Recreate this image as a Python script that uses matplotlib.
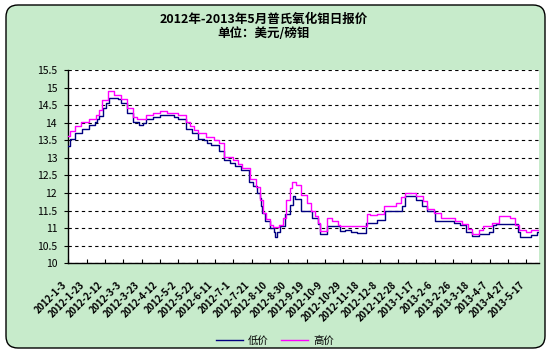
import numpy as np
import pandas as pd
import matplotlib
matplotlib.use("Agg")
import matplotlib.pyplot as plt
from matplotlib.patches import FancyBboxPatch
from matplotlib.transforms import ScaledTranslation

plt.rcParams['font.family'] = ['Noto Sans CJK SC', 'DejaVu Sans']

# ---- data: step series, date on which each price starts ----
low_dates = ["2012-01-03", "2012-01-05", "2012-01-10", "2012-01-18", "2012-01-26", "2012-02-01",
             "2012-02-03", "2012-02-06", "2012-02-10", "2012-02-13", "2012-02-16", "2012-02-26",
             "2012-02-29", "2012-03-07", "2012-03-14", "2012-03-20", "2012-03-25", "2012-03-28",
             "2012-04-04", "2012-04-12", "2012-04-27", "2012-05-02", "2012-05-10", "2012-05-17",
             "2012-05-23", "2012-05-30", "2012-06-02", "2012-06-07", "2012-06-15", "2012-06-21",
             "2012-06-27", "2012-07-03", "2012-07-10", "2012-07-18", "2012-07-23", "2012-07-27",
             "2012-07-30", "2012-07-31", "2012-08-01", "2012-08-05", "2012-08-10", "2012-08-14",
             "2012-08-16", "2012-08-18", "2012-08-21", "2012-08-26", "2012-09-01", "2012-09-04",
             "2012-09-06", "2012-09-13", "2012-09-25", "2012-10-01", "2012-10-04", "2012-10-11",
             "2012-10-25", "2012-10-31", "2012-11-07", "2012-11-13", "2012-11-23", "2012-12-05",
             "2012-12-14", "2013-01-01", "2013-01-04", "2013-01-16", "2013-01-23", "2013-01-29",
             "2013-02-06", "2013-02-27", "2013-03-06", "2013-03-12", "2013-03-19", "2013-03-26",
             "2013-04-06", "2013-04-11", "2013-04-14", "2013-05-08", "2013-05-10", "2013-05-22",
             "2013-05-28", "2013-05-31"]
low_vals = [13.34, 13.53, 13.70, 13.81, 13.93, 14.03,
            14.10, 14.20, 14.41, 14.55, 14.71, 14.67,
            14.55, 14.28, 14.03, 13.93, 14.00, 14.10,
            14.15, 14.22, 14.17, 14.10, 13.81, 13.72,
            13.55, 13.50, 13.43, 13.36, 13.20, 12.93,
            12.86, 12.77, 12.66, 12.32, 12.20, 11.99,
            11.85, 11.63, 11.43, 11.21, 11.00, 10.90,
            10.76, 10.90, 11.05, 11.40, 11.66, 11.91,
            11.83, 11.49, 11.30, 11.11, 10.84, 11.05,
            10.92, 10.95, 10.88, 10.85, 11.15, 11.24,
            11.48, 11.63, 11.91, 11.79, 11.63, 11.48,
            11.20, 11.15, 11.10, 10.88, 10.79, 10.84,
            10.90, 11.10, 11.12, 10.88, 10.75, 10.80,
            10.88, 10.88]

high_dates = ["2012-01-03", "2012-01-05", "2012-01-10", "2012-01-17", "2012-01-26", "2012-02-02",
              "2012-02-06", "2012-02-09", "2012-02-15", "2012-02-22", "2012-02-29", "2012-03-07",
              "2012-03-14", "2012-03-18", "2012-03-28", "2012-04-04", "2012-04-12", "2012-04-20",
              "2012-05-02", "2012-05-10", "2012-05-15", "2012-05-19", "2012-05-24", "2012-06-01",
              "2012-06-10", "2012-06-15", "2012-06-21", "2012-07-01", "2012-07-06", "2012-07-11",
              "2012-07-19", "2012-07-26", "2012-07-30", "2012-08-03", "2012-08-06", "2012-08-10",
              "2012-08-13", "2012-08-20", "2012-08-24", "2012-08-28", "2012-09-01", "2012-09-03",
              "2012-09-07", "2012-09-13", "2012-09-20", "2012-09-24", "2012-09-28", "2012-10-02",
              "2012-10-04", "2012-10-11", "2012-10-17", "2012-10-23", "2012-10-25", "2012-11-24",
              "2012-11-27", "2012-12-05", "2012-12-13", "2012-12-26", "2012-12-31", "2013-01-04",
              "2013-01-16", "2013-01-24", "2013-01-29", "2013-02-05", "2013-02-13", "2013-02-28",
              "2013-03-08", "2013-03-14", "2013-03-19", "2013-03-26", "2013-03-31", "2013-04-09",
              "2013-04-17", "2013-04-29", "2013-05-05", "2013-05-09", "2013-05-16", "2013-05-22",
              "2013-05-31"]
high_vals = [13.61, 13.75, 13.91, 14.03, 14.10, 14.22,
             14.36, 14.65, 14.89, 14.80, 14.67, 14.41,
             14.17, 14.10, 14.22, 14.27, 14.32, 14.29,
             14.22, 14.03, 13.90, 13.80, 13.70, 13.58,
             13.50, 13.41, 13.01, 12.95, 12.82, 12.70,
             12.39, 12.18, 11.80, 11.42, 11.25, 11.10,
             11.03, 11.10, 11.28, 11.80, 12.15, 12.32,
             12.22, 11.93, 11.72, 11.49, 11.35, 11.15,
             10.92, 11.28, 11.21, 11.10, 11.07, 11.40,
             11.37, 11.41, 11.62, 11.72, 11.88, 12.01,
             11.91, 11.77, 11.54, 11.43, 11.29, 11.21,
             11.13, 10.97, 10.84, 10.94, 11.06, 11.15,
             11.35, 11.28, 11.10, 10.95, 10.90, 10.95,
             10.95]

tick_labels = ["2012-1-3", "2012-1-23", "2012-2-12", "2012-3-3", "2012-3-23", "2012-4-12",
               "2012-5-2", "2012-5-22", "2012-6-11", "2012-7-1", "2012-7-21", "2012-8-10",
               "2012-8-30", "2012-9-19", "2012-10-9", "2012-10-29", "2012-11-18", "2012-12-8",
               "2012-12-28", "2013-1-17", "2013-2-6", "2013-2-26", "2013-3-18", "2013-4-7",
               "2013-4-27", "2013-5-17"]

title = "2012年-2013年5月普氏氧化钼日报价\n单位：美元/磅钼"

low_x = pd.to_datetime(low_dates)
high_x = pd.to_datetime(high_dates)
tick_x = pd.to_datetime(tick_labels)

fig = plt.figure(figsize=(5.5, 3.51), dpi=100)
fig.patch.set_facecolor('white')

# rounded green chart area
bg = FancyBboxPatch((0.06, 0.03), 5.39, 3.43, boxstyle="round,pad=0,rounding_size=0.12",
                    transform=fig.dpi_scale_trans, facecolor='#C7EBCB', edgecolor='black',
                    linewidth=1.0, zorder=-5)
fig.patches.append(bg)

ax = fig.add_axes([0.1242, 0.2499, 0.9805 - 0.1242, 0.8006 - 0.2499])
ax.set_facecolor('white')

ax.step(low_x, low_vals, where='post', color='#000080', linewidth=1.0, label='低价', zorder=3)
ax.step(high_x, high_vals, where='post', color='#FF00FF', linewidth=1.0, label='高价', zorder=3)

ax.set_xlim(pd.Timestamp("2012-01-03"), pd.Timestamp("2013-05-31"))
ax.set_ylim(10, 15.5)
ax.set_yticks(np.arange(10, 15.51, 0.5))
ax.yaxis.set_major_formatter(plt.FuncFormatter(lambda v, p: f"{v:g}"))
ax.grid(axis='y', color='black', linestyle=(0, (3, 3)), linewidth=0.8)

ax.set_xticks(tick_x)
ax.set_xticklabels(tick_labels, rotation=45, ha='right', va='top', fontsize=6.8, fontweight='bold')
offset = ScaledTranslation(-0.10, 0, fig.dpi_scale_trans)
for lab in ax.get_xticklabels():
    lab.set_transform(lab.get_transform() + offset)

ax.tick_params(axis='x', direction='in', length=3, width=0.8, pad=12)
ax.tick_params(axis='y', direction='out', length=3, width=0.8, labelsize=7.5, pad=5)

for s in ['top', 'right']:
    ax.spines[s].set_visible(False)
for s in ['left', 'bottom']:
    ax.spines[s].set_linewidth(1.0)

fig.text(0.48, 0.925, title, ha='center', va='center', fontsize=9, fontweight='bold',
         linespacing=1.15)

fig.legend(loc='center', bbox_to_anchor=(0.50, 0.03), ncol=2, frameon=False,
           fontsize=7.5, handlelength=2.6, columnspacing=1.2, handletextpad=0.5)

fig.savefig("out.png", dpi=100)
